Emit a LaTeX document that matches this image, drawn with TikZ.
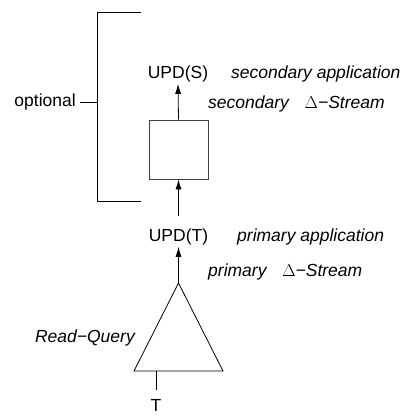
\documentclass[tikz,border=0pt]{standalone}
\usepackage{fontspec}
\setmainfont{Liberation Sans}
\usetikzlibrary{arrows.meta}
\begin{document}
\begin{tikzpicture}[x=1pt,y=-1pt,
  lbl/.style={inner sep=0pt, font=\fontsize{17.5}{21}\selectfont},
  ilbl/.style={inner sep=0pt, font=\fontsize{17.5}{21}\selectfont\itshape},
  ln/.style={line width=0.8pt},
  arr/.style={ln, -{Latex[length=10pt,width=6pt]}}]
\useasboundingbox (0,0) rectangle (404,415);
% bracket
\coordinate (bt1) at (141,12);
\coordinate (bt2) at (97,12);
\coordinate (bb2) at (97,201);
\coordinate (bb1) at (141,201);
\coordinate (bm) at (97,102);
\draw[ln] (bt1) -- (bt2) -- (bb2) -- (bb1);
\node[lbl, anchor=east] (opt) at (76,102) {optional};
\draw[ln] ([xshift=4pt]opt.east) -- (bm);
% secondary
\node[lbl, anchor=base] (updS) at (178,78) {UPD(S)};
\node[ilbl, anchor=base west] (secapp) at (231,78) {secondary application};
\node[ilbl, anchor=base west] (secds) at (208,108) {secondary\hspace{0.9em}{\upshape$\Delta$}−Stream};
\node[draw, ln, draw=black!75, minimum width=59pt, minimum height=59pt, inner sep=0pt] (box) at (178.5,149.5) {};
\draw[arr] (box.north) -- ([yshift=-2pt]updS.south);
% primary
\node[lbl, anchor=base] (updT) at (178.5,241) {UPD(T)};
\node[ilbl, anchor=base west] (priapp) at (237,241) {primary application};
\node[ilbl, anchor=base west] (prids) at (208,276) {primary\hspace{0.9em}{\upshape$\Delta$}−Stream};
\draw[arr] ([yshift=12pt]updT.north) -- (box.south);
% triangle
\coordinate (apex) at (178.5,283);
\coordinate (bl) at (134,371);
\coordinate (br) at (223,371);
\coordinate (tb) at (156,371);
\draw[ln] (apex) -- (bl) -- (br) -- cycle;
\draw[arr] (apex) -- ([yshift=-2pt]updT.south);
\node[ilbl, anchor=base east] (rq) at (135,342) {Read−Query};
\node[lbl, anchor=base] (T) at (156,411) {T};
\draw[ln] (tb) -- ([yshift=9pt]T.north);
\end{tikzpicture}
\end{document}
